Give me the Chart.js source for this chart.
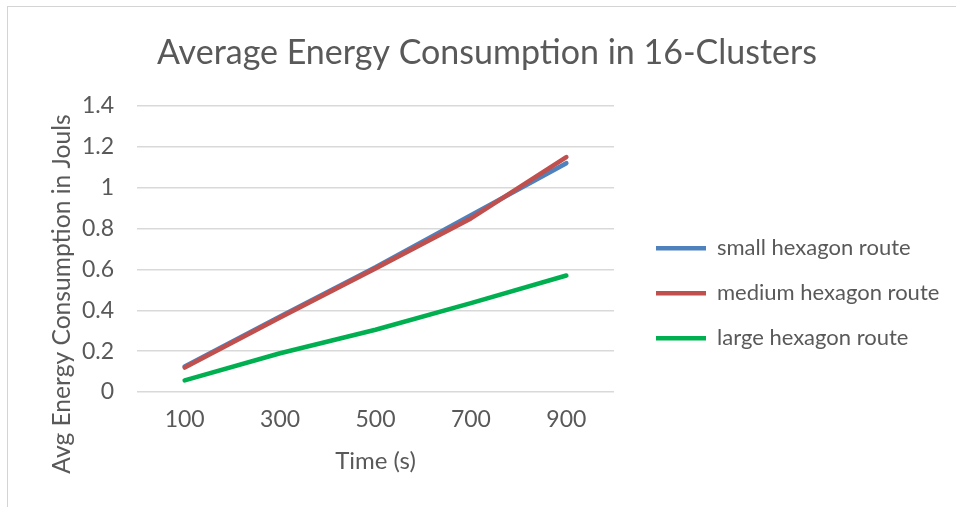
<!DOCTYPE html>
<html>
<head>
<meta charset="utf-8">
<script src="https://cdn.jsdelivr.net/npm/chart.js@4.4.1/dist/chart.umd.min.js"></script>
<style>
  html, body { margin: 0; padding: 0; background: #fff; }
  #wrap { position: relative; width: 956px; height: 507px; overflow: hidden; background: #fff; }
  #wrap canvas { position: absolute; left: 0; top: 0; }
  #frame { position: absolute; left: 7px; top: 6px; width: 1000px; height: 600px;
           border-top: 1px solid #d4d4d4; border-left: 1px solid #d4d4d4; pointer-events: none; }
</style>
</head>
<body>
<div id="wrap">
  <canvas id="chart" width="956" height="507"></canvas>
  <div id="frame"></div>
</div>
<script>
// Text
const chartTitle = 'Average Energy Consumption in 16-Clusters';
const xAxisTitle = 'Time (s)';
const yAxisTitle = 'Avg Energy Consumption in Jouls';

// Categories and ticks
const timeLabels = ['100', '300', '500', '700', '900'];
const yTickLabels = ['0', '0.2', '0.4', '0.6', '0.8', '1', '1.2', '1.4'];

// Series (Joules)
const seriesNames = ['small hexagon route', 'medium hexagon route', 'large hexagon route'];
const smallHexagon = [0.125, 0.37, 0.61, 0.865, 1.12];
const mediumHexagon = [0.12, 0.365, 0.605, 0.85, 1.15];
const largeHexagon = [0.057, 0.19, 0.305, 0.435, 0.57];

const seriesColors = ['#4f81bd', '#c0504d', '#00b050'];
const textColor = '#595959';
const gridColor = '#d9d9d9';
const FONT = 'Lato, "Open Sans", sans-serif';

const TITLE_SIZE = 34;
const TICK_SIZE = 23;
const AXIS_TITLE_SIZE = 24;
const Y_TITLE_SIZE = 24.6;
const LEGEND_SIZE = 22;

// Rotated y-axis title, placed a little below the plot's vertical middle
const yTitlePlugin = {
  id: 'yAxisTitle',
  afterDraw(chart) {
    const { ctx, chartArea } = chart;
    ctx.save();
    ctx.font = Y_TITLE_SIZE + 'px ' + FONT;
    ctx.fillStyle = textColor;
    ctx.textAlign = 'center';
    ctx.textBaseline = 'middle';
    ctx.translate(62, (chartArea.top + chartArea.bottom) / 2 + 45);
    ctx.rotate(-Math.PI / 2);
    ctx.fillText(yAxisTitle, 0, 0);
    ctx.restore();
  }
};

function build() {
  // legend geometry: padding + line + gap + widest label + 10
  const legendPad = 23;
  const legendLine = 50;
  const mctx = document.createElement('canvas').getContext('2d');
  mctx.font = LEGEND_SIZE + 'px ' + FONT;
  const widest = Math.max(...seriesNames.map(s => mctx.measureText(s).width));
  const legendWidth = legendPad + legendLine + LEGEND_SIZE / 2 + widest + 10;
  const plotRight = 614;
  const gapWidth = 19;
  const rightPad = Math.max(0, 956 - (plotRight + gapWidth) - legendWidth);
  // shift the full-width title so that it sits at x = 487
  const leftPad = Math.max(0, 2 * 487 - 956 + rightPad);

  const datasets = [smallHexagon, mediumHexagon, largeHexagon].map((data, i) => ({
    label: seriesNames[i],
    data: data,
    borderColor: seriesColors[i],
    backgroundColor: seriesColors[i],
    borderWidth: 4.6,
    borderCapStyle: 'round',
    borderJoinStyle: 'round',
    pointRadius: 0,
    pointHoverRadius: 0,
    tension: 0,
    fill: false,
    // medium route is painted above the small route
    order: [1, 0, 2][i]
  }));

  new Chart(document.getElementById('chart'), {
    type: 'line',
    data: { labels: timeLabels, datasets },
    plugins: [yTitlePlugin],
    options: {
      responsive: false,
      animation: false,
      events: [],
      layout: { padding: { left: leftPad, right: rightPad, top: 0, bottom: 27 } },
      plugins: {
        tooltip: { enabled: false },
        title: {
          display: true,
          text: chartTitle,
          color: textColor,
          font: { family: FONT, size: TITLE_SIZE, weight: 'normal', lineHeight: 1.2 },
          padding: { top: 33, bottom: 32.2 }
        },
        legend: {
          display: true,
          position: 'right',
          align: 'center',
          maxWidth: 400,
          // empty heading: only pushes the entries down
          title: { display: true, text: '', font: { size: 12, lineHeight: 1.2 }, padding: { top: 92, bottom: 0 } },
          labels: {
            color: textColor,
            font: { family: FONT, size: LEGEND_SIZE },
            usePointStyle: true,
            pointStyle: 'line',
            pointStyleWidth: legendLine,
            padding: legendPad,
            sort: (a, b) => a.datasetIndex - b.datasetIndex
          }
        }
      },
      scales: {
        x: {
          type: 'category',
          offset: true,
          grid: { display: false, drawTicks: false },
          border: { display: false },
          ticks: { color: textColor, font: { family: FONT, size: TICK_SIZE }, padding: 14, maxRotation: 0 },
          title: { display: true, text: xAxisTitle, color: textColor,
                   font: { family: FONT, size: AXIS_TITLE_SIZE }, padding: { top: 0, bottom: 4.6 } },
          afterFit(scale) { scale.height = 88; }
        },
        y: {
          type: 'linear',
          min: 0,
          max: 1.4,
          grid: { color: gridColor, lineWidth: 1.4, drawTicks: false },
          border: { display: false },
          ticks: {
            stepSize: 0.2,
            color: textColor,
            font: { family: FONT, size: TICK_SIZE },
            padding: 23,
            callback: (v, i) => yTickLabels[i]
          },
          afterFit(scale) { scale.width = 137 - leftPad; }
        },
        // empty strip between the plot and the legend
        legendGap: {
          type: 'linear',
          position: 'right',
          display: true,
          grid: { display: false, drawTicks: false },
          border: { display: false },
          ticks: { display: false },
          afterFit(scale) { scale.width = gapWidth; }
        }
      }
    }
  });
}

if (document.fonts && document.fonts.load) {
  Promise.all([document.fonts.load('24px Lato'), document.fonts.load('34px Lato')])
    .then(build, build);
} else {
  build();
}
</script>
</body>
</html>
